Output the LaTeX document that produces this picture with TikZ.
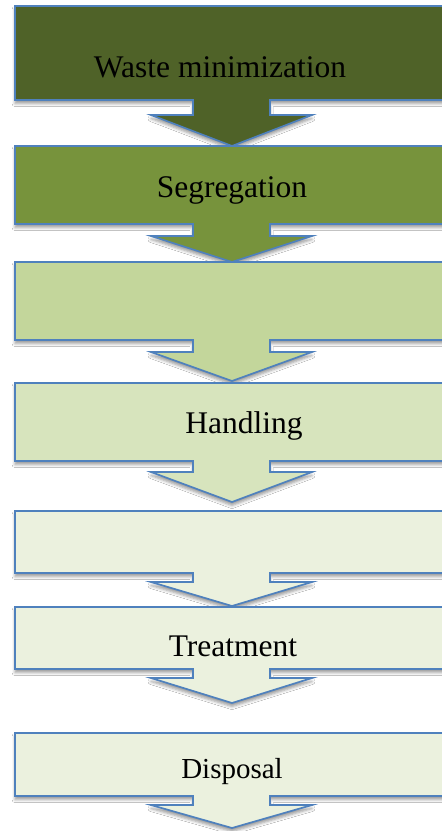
\documentclass[tikz,border=0pt]{standalone}
\usepackage{fontspec}
\setmainfont{Liberation Serif}
\usetikzlibrary{shadows.blur}
\definecolor{fillA}{HTML}{4F6228}
\definecolor{fillB}{HTML}{77933C}
\definecolor{fillC}{HTML}{C3D69B}
\definecolor{fillD}{HTML}{D7E4BD}
\definecolor{fillE}{HTML}{EBF1DE}
\definecolor{edgeblue}{HTML}{4F81BD}
\tikzset{
  callout/.style={draw=edgeblue, line width=1.7pt, line join=miter,
    blur shadow={shadow xshift=0pt, shadow yshift=-3.5pt, shadow blur radius=3pt, shadow opacity=40}},
  lbl/.style={anchor=base, inner sep=0pt, text=black, font=\fontsize{31.5}{36}\selectfont},
  lblsmall/.style={lbl, font=\fontsize{29}{34}\selectfont}
}
% #1 top, #2 bottom, #3 stem end, #4 tip, #5 fill colour
\newcommand\myarrowbox[5]{%
  \path[callout, fill=#5] (15,#1) -- (460,#1) -- (460,#2) -- (270,#2) -- (270,#3)
    -- (312,#3) -- (232,#4) -- (151,#3) -- (193,#3) -- (193,#2) -- (15,#2) -- cycle;}
\begin{document}
\begin{tikzpicture}[x=1pt,y=-1pt]
\useasboundingbox (0,0) rectangle (442,831);
\begin{scope}
\clip (0,0) rectangle (442,831);
\fill[white] (0,0) rectangle (442,831);
\myarrowbox{6}{100}{115}{146}{fillA}
\myarrowbox{146}{224}{236}{262}{fillB}
\myarrowbox{262}{340}{352}{381}{fillC}
\myarrowbox{383}{461}{472}{502}{fillD}
\myarrowbox{511}{573}{582}{606}{fillE}
\myarrowbox{607}{669}{678}{703}{fillE}
\myarrowbox{733}{796}{805}{828}{fillE}
\end{scope}
\node[lbl] (t1) at (220,77) {Waste minimization};
\node[lbl] (t2) at (232,197) {Segregation};
\node[lbl] (t4) at (244,433) {Handling};
\node[lbl] (t6) at (233,656) {Treatment};
\node[lblsmall] (t7) at (232,778) {Disposal};
\end{tikzpicture}
\end{document}
